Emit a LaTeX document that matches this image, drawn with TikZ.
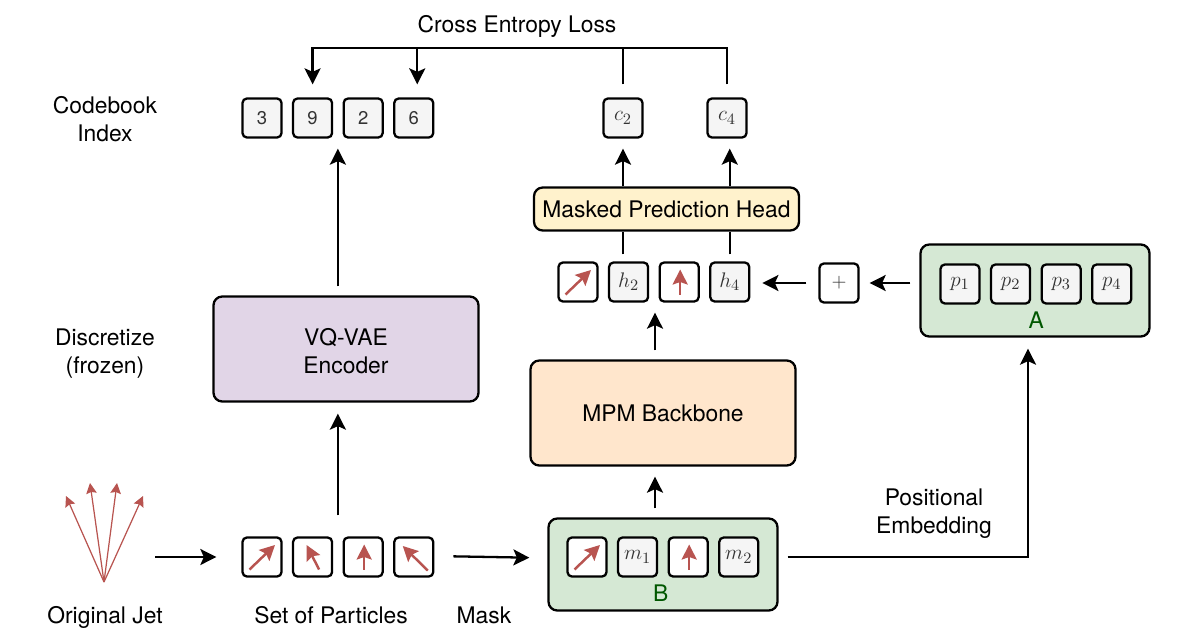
\documentclass[tikz,border=0pt]{standalone}
\usepackage{amsmath,amssymb}
\usepackage[no-math]{fontspec}
\setmainfont{TeX Gyre Heros}
\usepackage{xcolor}
\usetikzlibrary{positioning,arrows.meta,calc}
\definecolor{cellgray}{HTML}{F5F5F5}
\definecolor{celltext}{HTML}{333333}
\definecolor{ptred}{HTML}{B85450}
\definecolor{headyellow}{HTML}{FFF2CC}
\definecolor{encpurple}{HTML}{E1D5E7}
\definecolor{mpmorange}{HTML}{FFE6CC}
\definecolor{groupgreen}{HTML}{D5E8D4}
\definecolor{labelgreen}{HTML}{005700}

\begin{document}
\begin{tikzpicture}[font=\fontsize{13}{16}\selectfont, every node/.style={align=center},
  bigbox/.style={draw, line width=1.3pt, rounded corners=5pt, minimum width=5.3cm, minimum height=2.1cm, inner sep=2pt},
  groupbox/.style={draw, line width=1.3pt, rounded corners=5pt, fill=groupgreen, minimum width=4.58cm, minimum height=1.84cm},
  cell/.style={draw, line width=1.3pt, rounded corners=2.5pt, minimum size=0.78cm, inner sep=0pt},
  graycell/.style={cell, fill=cellgray, text=celltext},
  whitecell/.style={cell, fill=white},
  mathcell/.style={graycell, font=\fontsize{13}{16}\selectfont},
  digitcell/.style={graycell, font=\fontsize{10.5}{12}\selectfont},
  seq/.style={right=0.186cm of #1},
  wire/.style={line width=1.3pt, shorten <=.14cm},
  arr/.style={-{Stealth[length=3.2mm, width=3.2mm, inset=.7mm]}, line width=1.3pt, shorten <=.18cm, shorten >=.2cm},
  ptarr/.style={-{Stealth[length=3mm, width=3mm, inset=.5mm]}, ptred, line width=1.4pt},
  jetarr/.style={-{Stealth[length=2.1mm, width=2.1mm, inset=.3mm]}, ptred, line width=.7pt}]
\useasboundingbox (0,0) rectangle (23.56,12.86);

% left column
\node (ce) at (10.34,12.34) {Cross Entropy Loss};
\node (cbl) at (2.1,10.48) {Codebook\\Index};
\node (dsl) at (2.1,5.78) {Discretize\\(frozen)};
\node[anchor=base] (ojl) at (2.1,0.4) {Original Jet};
\node[anchor=base] (spl) at (6.62,0.4) {Set of Particles};
\node[anchor=base] (msk) at (9.68,0.4) {Mask};
\node (pel) at (18.68,2.58) {Positional\\Embedding};

% codebook index row
\node[digitcell] (i1) at (5.24,10.5) {3};
\node[digitcell, seq=i1] (i2) {9};
\node[digitcell, seq=i2] (i3) {2};
\node[digitcell, seq=i3] (i4) {6};
\node[mathcell] (c2) at (12.46,10.5) {$c_2$};
\node[mathcell] (c4) at (14.54,10.5) {$c_4$};

% big blocks
\node[bigbox, fill=encpurple] (vq) at (6.92,5.88) {\rule{0pt}{11.7pt}VQ-VAE\\Encoder};
\node[bigbox, fill=mpmorange] (mpm) at (13.26,4.6) {MPM Backbone};
\node[bigbox, fill=headyellow, minimum height=.86cm] (head) at (13.33,8.68) {Masked Prediction Head};

% output row
\node[whitecell] (h1) at (11.56,7.22) {};
\node[mathcell, seq=h1] (h2) {$h_2$};
\node[whitecell, seq=h2] (h3) {};
\node[mathcell, seq=h3] (h4) {$h_4$};
\node[whitecell, text=celltext, font=\fontsize{11}{12}\selectfont] (plus) at (16.78,7.2) {$+$};

% group A
\node[groupbox] (ga) at (20.7,7.05) {};
\node[mathcell] (p1) at (19.2,7.18) {$p_1$};
\node[mathcell, seq=p1] (p2) {$p_2$};
\node[mathcell, seq=p2] (p3) {$p_3$};
\node[mathcell, seq=p3] (p4) {$p_4$};
\node[text=labelgreen, below=0.02cm of p2.south east, xshift=.1cm] (al) {A};

% group B
\node[groupbox] (gb) at (13.26,1.57) {};
\node[whitecell] (b1) at (11.74,1.72) {};
\node[mathcell, seq=b1] (m1) {$m_1$};
\node[whitecell, seq=m1] (b3) {};
\node[mathcell, seq=b3] (m2) {$m_2$};
\node[text=labelgreen, below=0.02cm of m1.south east, xshift=.05cm] (bl) {B};

% particles
\node[whitecell] (s1) at (5.24,1.72) {};
\node[whitecell, seq=s1] (s2) {};
\node[whitecell, seq=s2] (s3) {};
\node[whitecell, seq=s3] (s4) {};

% red arrows in the cells
\foreach \n/\tx/\ty/\hx/\hy in {s1/-.25/-.25/.26/.24, s2/.13/-.25/-.12/.24, s3/.02/-.25/.02/.25, s4/.28/-.27/-.22/.22,
    h1/-.25/-.25/.26/.24, h3/.02/-.25/.02/.25, b1/-.25/-.25/.26/.24, b3/.02/-.25/.02/.25}
  \draw[ptarr] ([shift={(\tx,\ty)}]\n.center) -- ([shift={(\hx,\hy)}]\n.center);

% original jet
\coordinate (jet) at (2.08,1.22);
\foreach \x/\y in {1.32/2.94, 1.8/3.2, 2.34/3.2, 2.86/2.94}
  \draw[jetarr] (jet) -- (\x,\y);

% connectors
\coordinate (jetr) at (3.1,1.72);
\draw[arr, shorten <=0cm, shorten >=.5cm] (jetr) -- (s1.west);
\draw[arr, shorten <=.38cm, shorten >=.36cm] ([yshift=.02cm]s4.east) -- ([yshift=-.02cm]s4.east -| gb.west);
\coordinate (setup) at ($(s2.north)!0.5!(s3.north)+(0,.42)$);
\draw[arr, shorten <=0cm, shorten >=.22cm] (setup) -- (setup |- vq.south);
\draw[arr] (vq.north -| setup) -- (i2.south -| setup);
\coordinate (bup) at ([xshift=-.16cm]gb.north);
\draw[arr] (bup) -- (bup |- mpm.south);
\coordinate (mpmup) at ([xshift=-.16cm]mpm.north);
\draw[arr] (mpmup) -- (mpmup |- h2.south);
\coordinate (aunder) at ([xshift=-.14cm]ga.south);
\draw[arr, shorten >=.22cm] (m2 -| gb.east) -| (aunder);
\draw[arr] (plus -| ga.west) -- (plus);
\draw[arr, shorten <=.24cm, shorten >=.24cm] (plus) -- (plus -| h4.east);
\draw[wire] (c2 |- h2.north) -- (c2 |- head.south);
\draw[wire] (h4.north) -- (h4 |- head.south);
\draw[arr, shorten <=0cm] (c2 |- head.north) -- (c2.south);
\draw[arr, shorten <=0cm] (h4 |- head.north) -- (h4 |- c4.south);

% loss bracket
\coordinate (ctop) at (10.34,11.9);
\coordinate (i4t) at ([xshift=.07cm]i4.north);
\draw[arr, shorten <=.26cm, shorten >=.26cm] (c2.north) -- (c2.north |- ctop) -- (i2.north |- ctop) -- (i2.north);
\draw[arr, shorten <=0cm, shorten >=.26cm] (i4t |- ctop) -- (i4t);
\draw[wire, shorten <=.26cm] (c4.north) -- (c4.north |- ctop) -- (c2.north |- ctop);
\end{tikzpicture}
\end{document}
